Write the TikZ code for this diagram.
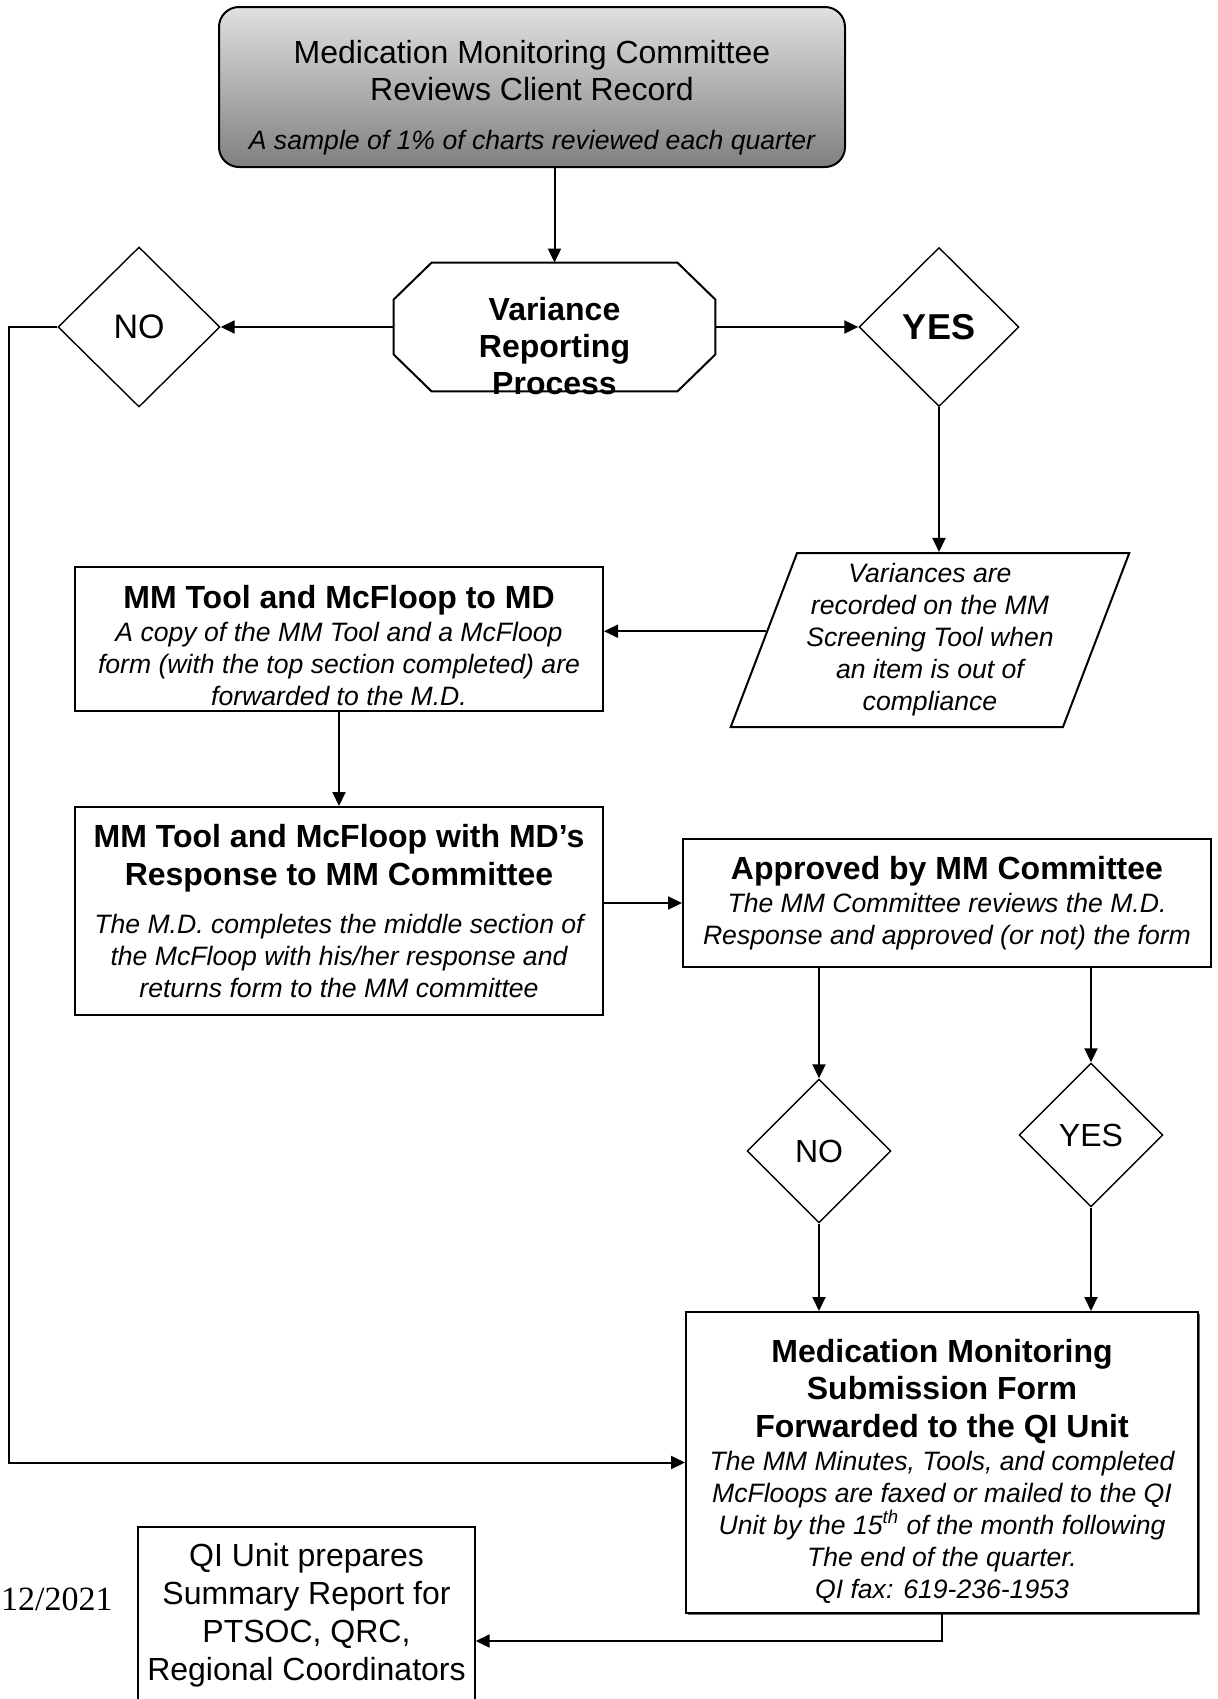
\documentclass[tikz,border=0pt]{standalone}
\usepackage{fontspec}
\setmainfont{Liberation Sans}
\newfontfamily\datefont{Liberation Serif}
\usetikzlibrary{shapes.geometric,
	arrows.meta,
	shadows,
	calc}
\newcommand{\boxtitle}{\fontsize{16}{16}\selectfont\bfseries\upshape}

\begin{document}
\begin{tikzpicture}[x=0.5pt, y=-0.5pt,
	>={Triangle[length=7pt,width=6.5pt]},
	line/.style={line width=1pt},
	mmbox/.style={draw, line width=1pt, align=center, inner sep=0pt,
		font=\fontsize{13.3}{16}\selectfont\itshape},
	boxtext/.style={align=center, font=\fontsize{13.3}{16}\selectfont\itshape},
	decide/.style={draw, diamond, line width=0.7pt, inner sep=0pt,
		font=\fontsize{16}{16}\selectfont}]
	\path[use as bounding box, clip] (0,0) rectangle (1217,1699);
	\node[mmbox, rounded corners=10pt, top color=black!12, bottom color=black!50,
		minimum width=313pt, minimum height=80pt,
		label={[align=center, yshift=-5.5pt, font=\fontsize{16}{16}\selectfont]center:Medication Monitoring Committee\\[2.5pt]Reviews Client Record\\[8.5pt]{\fontsize{13.3}{16}\selectfont\itshape A sample of 1\% of charts reviewed each quarter}}] (review) at (532,87) {};
	\node[minimum width=160.5pt, minimum height=64pt, inner sep=0pt,
		label={[align=center, yshift=-9.5pt, font=\fontsize{16}{16}\selectfont\bfseries]center:Variance\\[2.5pt]Reporting\\[2.5pt]Process}] (vrp) at (554.5,327) {};
	\draw[line] ([xshift=19pt]vrp.north west) -- ([xshift=-19pt]vrp.north east)
		-- ([yshift=-18.5pt]vrp.north east) -- ([yshift=18.5pt]vrp.south east)
		-- ([xshift=-19pt]vrp.south east) -- ([xshift=19pt]vrp.south west)
		-- ([yshift=18.5pt]vrp.south west) -- ([yshift=-18.5pt]vrp.north west) -- cycle;
	\node[decide, minimum width=81pt, minimum height=80pt, font=\fontsize{17}{17}\selectfont] (noleft) at (139,327) {NO};
	\node[decide, minimum width=80pt, minimum height=79.5pt, font=\fontsize{18}{18}\selectfont\bfseries] (yesright) at (939,327) {YES};
	\node[mmbox, trapezium, trapezium left angle=68, trapezium right angle=112,
		trapezium stretches=true, minimum width=199.5pt, minimum height=87pt] (variances) at (930,640)
		{Variances are\\recorded on the MM\\Screening Tool when\\an item is out of\\compliance};
	\coordinate (varleft) at ($(variances.bottom left corner)!0.55!(variances.top left corner)$);
	\node[mmbox, minimum width=264pt, minimum height=72pt,
		label={[boxtext, yshift=-3.2pt]center:{\boxtitle MM Tool and McFloop to MD}\\[0.5pt]A copy of the MM Tool and a McFloop\\form (with the top section completed) are\\forwarded to the M.D.}] (tooltomd) at (339,639) {};
	\node[mmbox, minimum width=264pt, minimum height=104pt] (mdresponse) at (339,911)
		{{\boxtitle MM Tool and McFloop with MD’s}\\[3pt]{\boxtitle Response to MM Committee}\\[8pt]The M.D. completes the middle section of\\the McFloop with his/her response and\\returns form to the MM committee};
	\node[mmbox, minimum width=264pt, minimum height=64pt] (approved) at (947,903)
		{{\boxtitle Approved by MM Committee}\\[0.5pt]The MM Committee reviews the M.D.\\Response and approved (or not) the form};
	\node[decide, minimum width=72pt, minimum height=72pt] (nosmall) at (819,1151) {NO};
	\node[decide, minimum width=72pt, minimum height=72pt] (yessmall) at (1091,1135) {YES};
	\node[mmbox, fill=white, drop shadow={shadow xshift=1pt, shadow yshift=-1pt, fill=black!60, opacity=1},
		minimum width=256pt, minimum height=150.5pt,
		label={[boxtext, yshift=-4.3pt]center:{\boxtitle Medication Monitoring}\\[2.75pt]{\boxtitle Submission Form}\\[2.75pt]{\boxtitle Forwarded to the QI Unit}\\[0.5pt]The MM Minutes, Tools, and completed\\McFloops are faxed or mailed to the QI\\Unit by the 15\textsuperscript{th} of the month following\\The end of the quarter.\\QI fax: 619-236-1953}] (submission) at (942,1462.5) {};
	\node[draw, line width=0.7pt, align=center, font=\fontsize{16}{19}\selectfont,
		minimum width=168.5pt, minimum height=88pt] (qiunit) at (306.5,1615)
		{QI Unit prepares\\Summary Report for\\PTSOC, QRC,\\Regional Coordinators};
	\node[anchor=base east, inner sep=0pt, font=\datefont\fontsize{17}{17}\selectfont] (date) at (113,1610) {12/2021};
	\draw[line,->] (review.south -| vrp.north) -- (vrp.north);
	\draw[line,->] (vrp.west) -- (noleft.east);
	\draw[line,->] (vrp.east) -- (yesright.west);
	\draw[line,->] (noleft.west) -- ++(-48,0) |- (submission.west);
	\draw[line,->] (yesright.south) -- (yesright.south |- variances.north);
	\draw[line,->] (varleft) -- (varleft -| tooltomd.east);
	\draw[line,->] (tooltomd.south) -- (mdresponse.north);
	\draw[line,->] (mdresponse.east |- approved.west) -- (approved.west);
	\draw[line,->] (approved.south -| nosmall.north) -- (nosmall.north);
	\draw[line,->] (approved.south -| yessmall.north) -- (yessmall.north);
	\draw[line,->] (nosmall.south) -- (nosmall.south |- submission.north);
	\draw[line,->] (yessmall.south) -- (yessmall.south |- submission.north);
	\draw[line,->] (submission.south) |- ([yshift=-13pt]qiunit.east);
\end{tikzpicture}
\end{document}
